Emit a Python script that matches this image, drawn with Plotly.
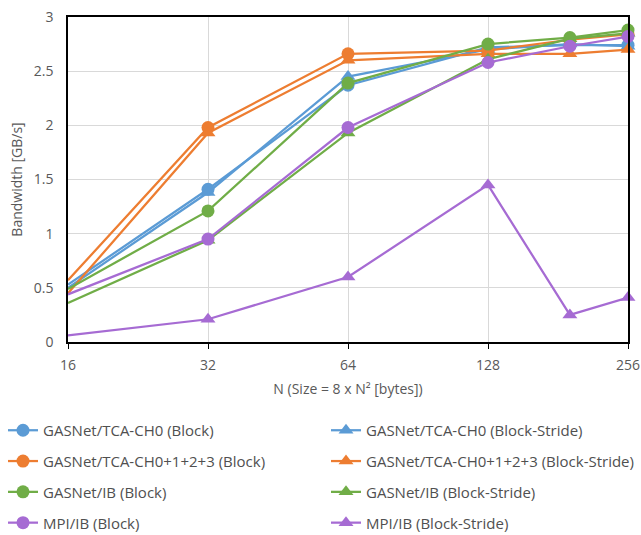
import plotly.graph_objects as go

x_vals = [16, 32, 64, 128, 192, 256]
x_ticks = [16, 32, 64, 128, 256]
y_ticks = [0, 0.5, 1, 1.5, 2, 2.5, 3]

series_names = [
    "GASNet/TCA-CH0 (Block)",
    "GASNet/TCA-CH0 (Block-Stride)",
    "GASNet/TCA-CH0+1+2+3 (Block)",
    "GASNet/TCA-CH0+1+2+3 (Block-Stride)",
    "GASNet/IB (Block)",
    "GASNet/IB (Block-Stride)",
    "MPI/IB (Block)",
    "MPI/IB (Block-Stride)",
]

tca0_block = [0.53, 1.41, 2.37, 2.72, 2.74, 2.74]
tca0_stride = [0.50, 1.38, 2.45, 2.70, 2.75, 2.73]
tca4_block = [0.57, 1.98, 2.66, 2.69, 2.79, 2.84]
tca4_stride = [0.45, 1.93, 2.60, 2.66, 2.66, 2.70]
ib_block = [0.49, 1.21, 2.39, 2.75, 2.81, 2.88]
ib_stride = [0.36, 0.94, 1.93, 2.61, 2.80, 2.85]
mpi_block = [0.44, 0.95, 1.98, 2.58, 2.73, 2.82]
mpi_stride = [0.06, 0.21, 0.60, 1.45, 0.25, 0.41]

series_values = [tca0_block, tca0_stride, tca4_block, tca4_stride,
                 ib_block, ib_stride, mpi_block, mpi_stride]

colors = ["#5B9BD5", "#5B9BD5", "#ED7D31", "#ED7D31",
          "#70AD47", "#70AD47", "#A66BD3", "#A66BD3"]

FONT = "Open Sans"

fig = go.Figure()
for i, (name, vals) in enumerate(zip(series_names, series_values)):
    is_block = (i % 2 == 0)
    fig.add_trace(go.Scatter(
        x=x_vals, y=vals, name=name, mode="lines+markers",
        line=dict(color=colors[i], width=2.25),
        marker=dict(symbol="circle" if is_block else "triangle-up",
                    size=13, color=colors[i]),
        cliponaxis=False,
        legend="legend" if is_block else "legend2",
        legendgroup=name,
    ))

ML, MT = 68, 17
PW = 560.0  # plot width in px
PH = 325.0  # plot height in px
W, H = 641, 535

legend_common = dict(
    orientation="v", yanchor="top", xanchor="left", tracegroupgap=8.3,
    font=dict(family=FONT, size=15, color="#505050"),
    bgcolor="rgba(0,0,0,0)", itemwidth=30,
)

leg_top = 414 - MT  # px below plot top
fig.update_layout(
    width=W, height=H,
    margin=dict(l=ML, r=W - ML - PW, t=MT, b=H - MT - PH, autoexpand=False),
    paper_bgcolor="white", plot_bgcolor="white",
    font=dict(family=FONT, size=14, color="#595959"),
    showlegend=True,
    legend=dict(x=(3 - 68) / PW, y=1 - leg_top / PH, **legend_common),
    legend2=dict(x=(326 - 68) / PW, y=1 - leg_top / PH, **legend_common),
    xaxis=dict(
        type="log", range=[1.20412, 2.40824],
        tickvals=x_ticks, ticktext=[str(v) for v in x_ticks],
        showgrid=True, gridcolor="#D9D9D9", gridwidth=1,
        showline=True, linecolor="black", linewidth=1.5, mirror=True,
        ticks="outside", ticklen=5, tickcolor="black",
        ticklabelstandoff=4, ticklabeloverflow="allow",
        tickfont=dict(family=FONT, size=14, color="#595959"),
        tickangle=0, automargin=False,
        title=dict(text="N (Size = 8 x N² [bytes])",
                   font=dict(family=FONT, size=14, color="#595959"),
                   standoff=12),
        zeroline=False,
    ),
    yaxis=dict(
        range=[0, 3], tickvals=y_ticks,
        ticktext=["0", "0.5", "1", "1.5", "2", "2.5", "3"],
        showgrid=True, gridcolor="#D9D9D9", gridwidth=1,
        showline=True, linecolor="black", linewidth=1.5, mirror=True,
        ticks="", automargin=False, ticklabelstandoff=10,
        ticklabeloverflow="allow",
        tickfont=dict(family=FONT, size=14, color="#595959"),
        title=dict(text="Bandwidth [GB/s]",
                   font=dict(family=FONT, size=14, color="#595959"),
                   standoff=8),
        zeroline=False,
    ),
)

fig.write_html(
    "out.html",
    config={"displayModeBar": False},
    post_script="document.body.style.margin='0px';"
                "document.body.style.overflow='hidden';",
)
